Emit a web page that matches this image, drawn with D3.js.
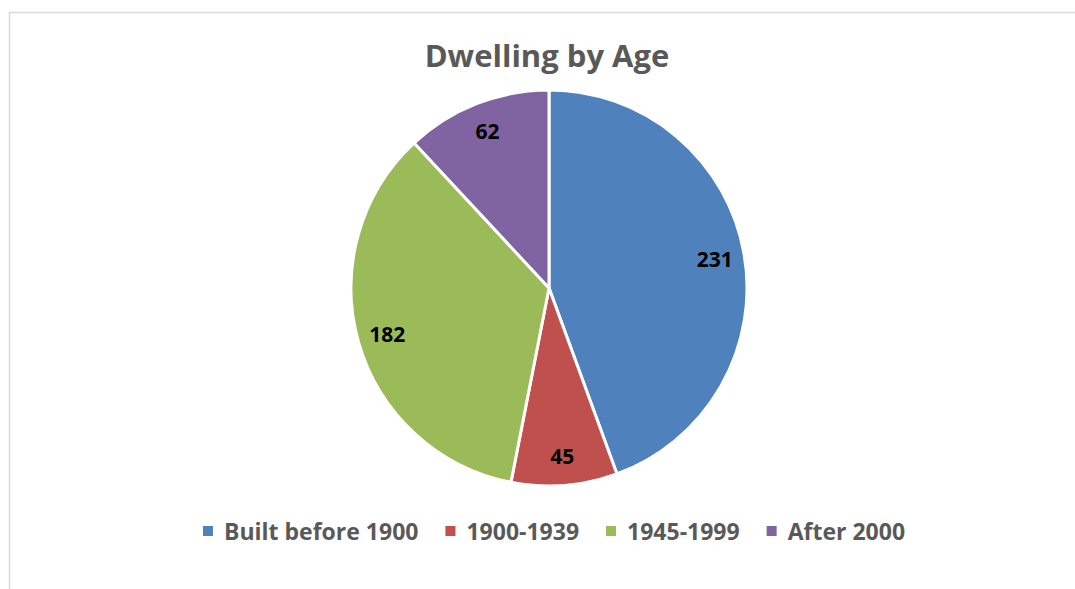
<!DOCTYPE html>
<html>
<head>
<meta charset="utf-8">
<script src="https://cdn.jsdelivr.net/npm/d3@7"></script>
<style>
  html, body { margin: 0; padding: 0; background: #fff; }
  svg { display: block; }
  text { font-family: "Open Sans", Lato, "Noto Sans", sans-serif; font-weight: bold; }
</style>
</head>
<body>
<svg id="chart" width="1075" height="589"></svg>
<script>
const title = "Dwelling by Age";
const categories = ["Built before 1900", "1900-1939", "1945-1999", "After 2000"];
const values = [231, 45, 182, 62];
const colors = ["#4F81BD", "#C0504D", "#9BBB59", "#8064A2"];

const W = 1075, H = 589;
const svg = d3.select("#chart");

// chart area border
svg.append("rect")
  .attr("x", 9.5).attr("y", 12.5)
  .attr("width", W + 20).attr("height", H + 20)
  .attr("fill", "#fff")
  .attr("stroke", "#d9d9d9")
  .attr("stroke-width", 1.5);

// title
svg.append("text")
  .attr("x", 547).attr("y", 67)
  .attr("text-anchor", "middle")
  .attr("font-size", 31)
  .attr("fill", "#595959")
  .text(title);

const cx = 549, cy = 288, R = 198;
const data = categories.map((c, i) => ({ cat: c, value: values[i], color: colors[i] }));
const pie = d3.pie().sort(null).value(d => d.value).startAngle(0).endAngle(2 * Math.PI);
const arcs = pie(data);
const arc = d3.arc().innerRadius(0).outerRadius(R);
const labelArc = d3.arc().innerRadius(R * 0.85).outerRadius(R * 0.85);

const g = svg.append("g").attr("transform", `translate(${cx},${cy})`);
g.selectAll("path.slice").data(arcs).join("path")
  .attr("class", "slice")
  .attr("d", arc)
  .attr("fill", d => d.data.color)
  .attr("stroke", "#fff")
  .attr("stroke-width", 3)
  .attr("stroke-linejoin", "round");

g.selectAll("text.lbl").data(arcs).join("text")
  .attr("class", "lbl")
  .attr("transform", d => {
    const [x, y] = labelArc.centroid(d);
    return `translate(${x},${y})`;
  })
  .attr("text-anchor", "middle")
  .attr("dominant-baseline", "central")
  .attr("font-size", 21)
  .attr("fill", "#000")
  .text(d => d.data.value);

// legend
const legend = svg.append("g");
const sq = 10, gapSqText = 11, gapItems = 27, fs = 23;
const items = legend.selectAll("g.item").data(data).join("g").attr("class", "item");
items.append("rect")
  .attr("width", sq).attr("height", sq)
  .attr("y", -sq / 2)
  .attr("fill", d => d.color);
items.append("text")
  .attr("x", sq + gapSqText)
  .attr("dominant-baseline", "central")
  .attr("font-size", fs)
  .attr("fill", "#595959")
  .text(d => d.cat);
let widths = [];
items.each(function() {
  widths.push(sq + gapSqText + d3.select(this).select("text").node().getComputedTextLength());
});
const total = d3.sum(widths) + gapItems * (widths.length - 1);
let x0 = 554 - total / 2;
items.attr("transform", (d, i) => {
  const x = x0;
  x0 += widths[i] + gapItems;
  return `translate(${x},531)`;
});
</script>
</body>
</html>
